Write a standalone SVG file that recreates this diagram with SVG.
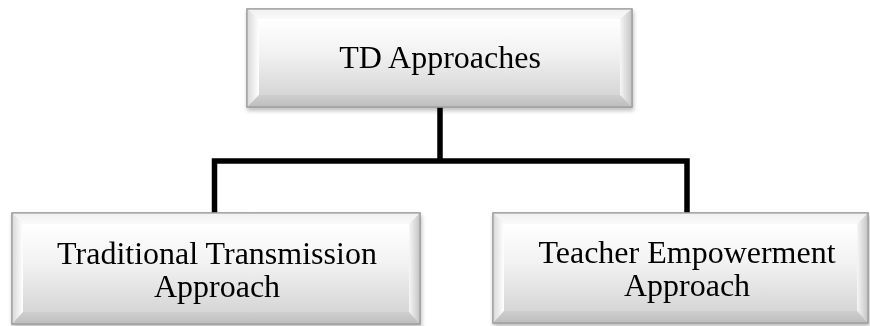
<svg xmlns="http://www.w3.org/2000/svg" width="870" height="326" viewBox="0 0 870 326">
<defs>
<linearGradient id="face" x1="0" y1="0" x2="0" y2="1">
<stop offset="0" stop-color="#ffffff"/>
<stop offset="0.45" stop-color="#f2f2f2"/>
<stop offset="1" stop-color="#d6d6d6"/>
</linearGradient>
<linearGradient id="bvTop" x1="0" y1="0" x2="0" y2="1">
<stop offset="0" stop-color="#f0f0f0"/>
<stop offset="1" stop-color="#fafafa"/>
</linearGradient>
<linearGradient id="bvLeft" x1="0" y1="0" x2="1" y2="0">
<stop offset="0" stop-color="#d8d8d8"/>
<stop offset="1" stop-color="#ffffff"/>
</linearGradient>
<linearGradient id="bvRight" x1="0" y1="0" x2="1" y2="0">
<stop offset="0" stop-color="#f6f6f6"/>
<stop offset="1" stop-color="#c4c4c4"/>
</linearGradient>
<linearGradient id="bvBottom" x1="0" y1="0" x2="0" y2="1">
<stop offset="0" stop-color="#cfcfcf"/>
<stop offset="1" stop-color="#bdbdbd"/>
</linearGradient>
<filter id="sh" x="-5%" y="-10%" width="110%" height="130%">
<feGaussianBlur in="SourceAlpha" stdDeviation="2"/>
<feOffset dx="1" dy="3"/>
<feComponentTransfer><feFuncA type="linear" slope="0.25"/></feComponentTransfer>
<feMerge><feMergeNode/><feMergeNode in="SourceGraphic"/></feMerge>
</filter>
</defs>
<style>
.outer{fill:#e6e6e6;stroke:#9a9a9a;stroke-width:1.2}
.bt{fill:url(#bvTop)}
.bl{fill:url(#bvLeft)}
.br{fill:url(#bvRight)}
.bb{fill:url(#bvBottom)}
.face{fill:url(#face)}
.lbl{font-family:"Liberation Serif","Times New Roman",serif;font-size:32px;fill:#000;text-anchor:middle}
.conn{fill:none;stroke:#000;stroke-width:5.5;stroke-linejoin:miter}
</style>

<g id="connectors">
<path class="conn" d="M440,107 V161"/>
<path class="conn" d="M214.5,213 V161 H687 V213"/>
</g>

<g id="node-td" filter="url(#sh)">
<rect class="outer" x="247" y="9" width="385" height="98"/>
<polygon class="bt" points="247,9 632,9 620,19 259,19"/>
<polygon class="bl" points="247,9 259,19 259,95 247,107"/>
<polygon class="br" points="632,9 632,107 620,95 620,19"/>
<polygon class="bb" points="247,107 259,95 620,95 632,107"/>
<rect class="face" x="259" y="19" width="361" height="76"/>
<rect x="247" y="9" width="385" height="98" fill="none" stroke="#9a9a9a" stroke-width="1.2"/>
<text class="lbl" x="440" y="68">TD Approaches</text>
</g>

<g id="node-traditional" filter="url(#sh)">
<rect class="outer" x="12" y="213" width="408" height="111"/>
<polygon class="bt" points="12,213 420,213 409,224 23,224"/>
<polygon class="bl" points="12,213 23,224 23,312 12,324"/>
<polygon class="br" points="420,213 420,324 409,312 409,224"/>
<polygon class="bb" points="12,324 23,312 409,312 420,324"/>
<rect class="face" x="23" y="224" width="386" height="88"/>
<rect x="12" y="213" width="408" height="111" fill="none" stroke="#9a9a9a" stroke-width="1.2"/>
<text class="lbl" x="217" y="264">Traditional Transmission</text>
<text class="lbl" x="217" y="297">Approach</text>
</g>

<g id="node-empowerment" filter="url(#sh)">
<rect class="outer" x="493" y="213" width="375" height="110"/>
<polygon class="bt" points="493,213 868,213 857,224 504,224"/>
<polygon class="bl" points="493,213 504,224 504,311 493,323"/>
<polygon class="br" points="868,213 868,323 857,311 857,224"/>
<polygon class="bb" points="493,323 504,311 857,311 868,323"/>
<rect class="face" x="504" y="224" width="353" height="87"/>
<rect x="493" y="213" width="375" height="110" fill="none" stroke="#9a9a9a" stroke-width="1.2"/>
<text class="lbl" x="687" y="263">Teacher Empowerment</text>
<text class="lbl" x="687" y="296">Approach</text>
</g>
</svg>
